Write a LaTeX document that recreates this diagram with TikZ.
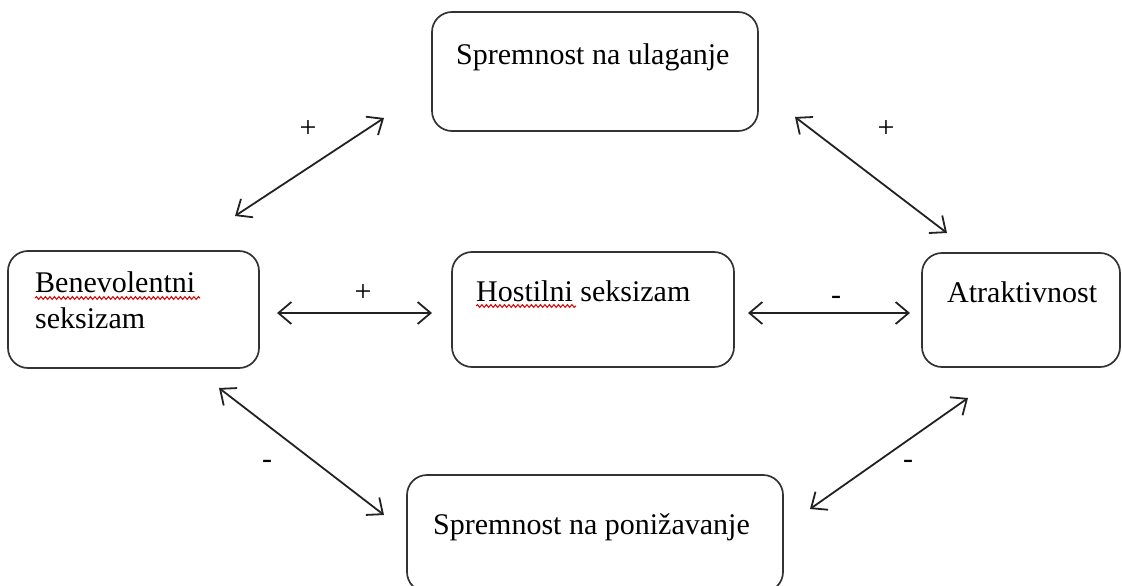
\documentclass[tikz,border=0pt]{standalone}
\usepackage{fontspec}
\setmainfont{Liberation Serif}
\usetikzlibrary{arrows.meta,decorations.pathmorphing}
\definecolor{boxgray}{HTML}{333333}
\definecolor{arrowgray}{HTML}{222222}
\begin{document}
\begin{tikzpicture}[x=1pt,y=-1pt,
  box/.style={draw=boxgray, line width=1.7pt, rounded corners=20pt, inner sep=0pt},
  lbl/.style={anchor=base west, inner sep=0pt, font=\fontsize{30}{36}\selectfont},
  sign/.style={inner sep=0pt, font=\fontsize{30}{36}\selectfont},
  link/.style={draw=arrowgray, line width=1.8pt,
    {Straight Barb[length=13pt,width=22pt]}-{Straight Barb[length=13pt,width=22pt]}},
  spell/.style={draw=red!85!black, line width=1pt, decorate,
    decoration={snake, amplitude=1.4pt, segment length=4.5pt}}]
\useasboundingbox (0,0) rectangle (1122,586);
\clip (0,0) rectangle (1122,586);

% boxes
\node[box, minimum width=326pt, minimum height=119pt] (ul) at (595,71.5) {};
\node[box, minimum width=251pt, minimum height=117pt] (bs) at (133.5,309.5) {};
\node[box, minimum width=282pt, minimum height=115pt] (hs) at (593,309.5) {};
\node[box, minimum width=198pt, minimum height=114pt] (at) at (1021,310) {};
\node[box, minimum width=376pt, minimum height=117pt] (po) at (595,533.5) {};

% texts
\node[lbl] (tul) at (456,64) {Spremnost na ulaganje};
\node[lbl] (tbs1) at (35,292) {Benevolentni};
\node[lbl] (tbs2) at (35,328) {seksizam};
\node[lbl] (ths) at (476,301) {Hostilni seksizam};
\node[lbl] (tat) at (947,302) {Atraktivnost};
\node[lbl] (tpo) at (433,534) {Spremnost na poni\v{z}avanje};

% spell-check underlines
\coordinate (s1a) at (35,298);
\coordinate (s1b) at (200,298);
\coordinate (s2a) at (476,306);
\coordinate (s2b) at (576,306);
\draw[spell] (s1a) -- (s1b);
\draw[spell] (s2a) -- (s2b);

% arrow end points
\coordinate (a1a) at (235,216);
\coordinate (a1b) at (384,118);
\coordinate (a2a) at (795,117);
\coordinate (a2b) at (947,233);
\coordinate (a3a) at (277,313);
\coordinate (a3b) at (432,313);
\coordinate (a4a) at (748,313);
\coordinate (a4b) at (910,313);
\coordinate (a5a) at (219,388);
\coordinate (a5b) at (384,515);
\coordinate (a6a) at (968,398);
\coordinate (a6b) at (810,509);

\draw[link] (a1a) -- (a1b);
\draw[link] (a2a) -- (a2b);
\draw[link] (a3a) -- (a3b);
\draw[link] (a4a) -- (a4b);
\draw[link] (a5a) -- (a5b);
\draw[link] (a6a) -- (a6b);

% signs
\node[sign] (p1) at (308,129) {+};
\node[sign] (p2) at (886,129) {+};
\node[sign] (p3) at (363,293) {+};
\node[sign] (m1) at (836,300) {-};
\node[sign] (m2) at (267,464) {-};
\node[sign] (m3) at (908,464) {-};
\end{tikzpicture}
\end{document}
